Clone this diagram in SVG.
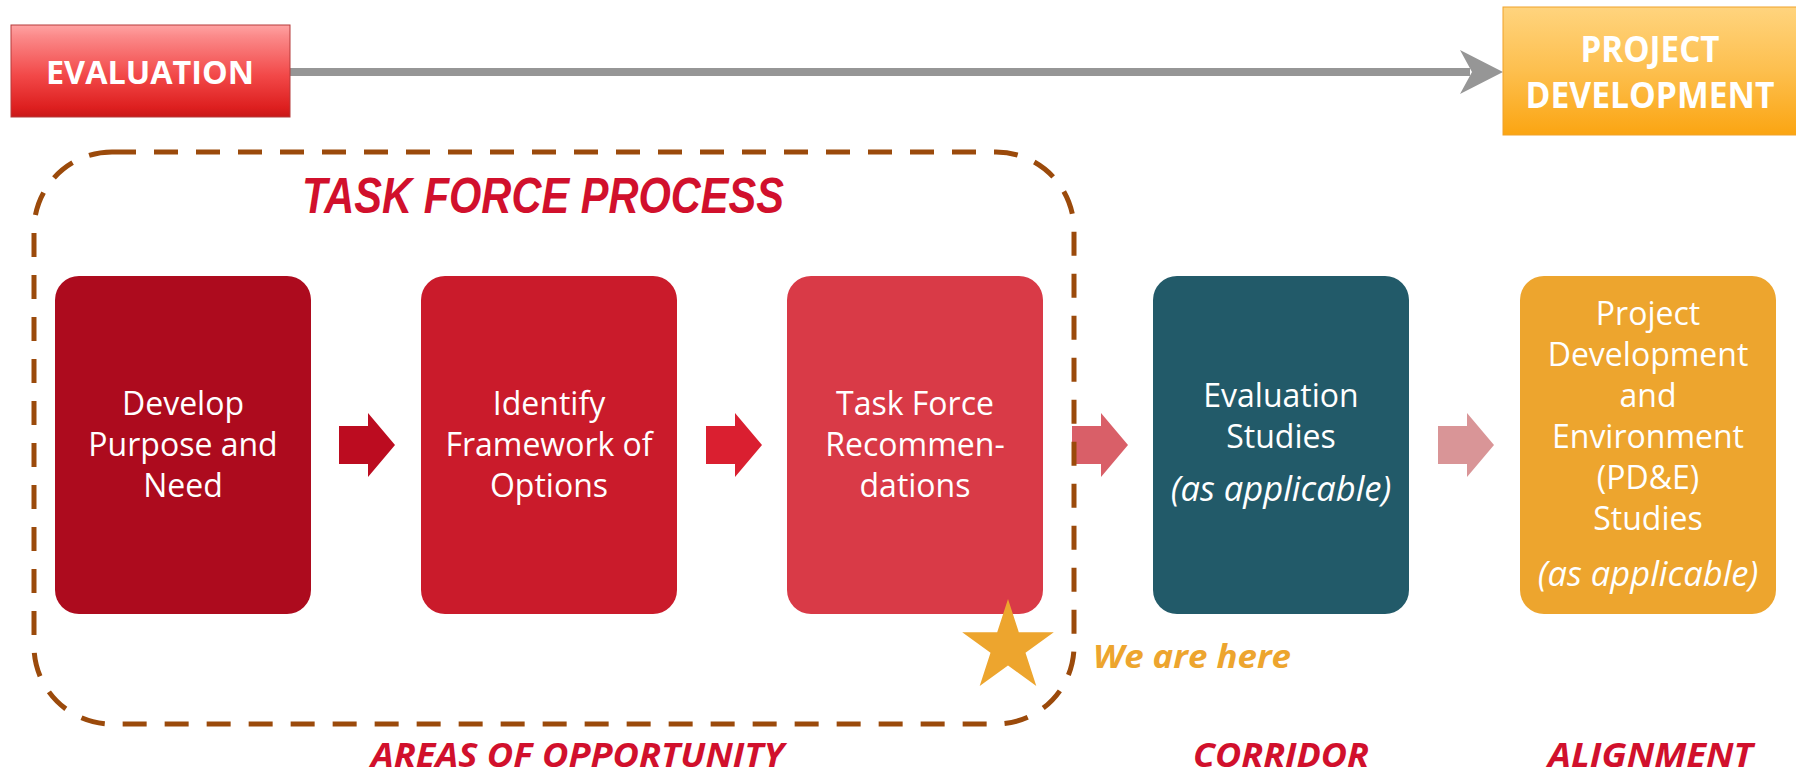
<svg xmlns="http://www.w3.org/2000/svg" width="1796" height="775" viewBox="0 0 1796 775">
<defs>
<linearGradient id="gEval" x1="0" y1="0" x2="0" y2="1">
<stop offset="0" stop-color="#FFA3A3"/>
<stop offset="0.12" stop-color="#FB8A8A"/>
<stop offset="0.55" stop-color="#F24848"/>
<stop offset="0.9" stop-color="#DD1F1F"/>
<stop offset="1" stop-color="#C81818"/>
</linearGradient>
<linearGradient id="gPD" x1="0" y1="0" x2="0" y2="1">
<stop offset="0" stop-color="#FFD47E"/>
<stop offset="0.5" stop-color="#FDBF4E"/>
<stop offset="1" stop-color="#FBA512"/>
</linearGradient>
<path id="blockArrow" d="M0,-19 H29 V-32 L56,0 L29,32 V19 H0 Z"/>
<style>
.box-text{font-family:"Open Sans","Liberation Sans",sans-serif;font-size:32px;fill:#FFFFFF;text-anchor:middle}
.ital{font-style:italic;font-size:34.5px}
.head{font-family:"Open Sans","Liberation Sans",sans-serif;font-weight:bold;fill:#FFFFFF;text-anchor:middle}
.label{font-family:"Open Sans","Liberation Sans",sans-serif;font-weight:bold;font-style:italic;fill:#D1102C}
</style>
</defs>
<rect width="1796" height="775" fill="#FFFFFF"/>

<g id="connectors">
<line x1="290" y1="72" x2="1470" y2="72" stroke="#969696" stroke-width="8"/>
<polygon points="1460,50 1503,72 1460,94 1472,72" fill="#969696"/>
<use href="#blockArrow" x="339" y="445" fill="#BC0C20"/>
<use href="#blockArrow" x="706" y="445" fill="#DA1F30"/>
<use href="#blockArrow" x="1072" y="445" fill="#D95F68"/>
<use href="#blockArrow" x="1438" y="445" fill="#D99597"/>
</g>

<g id="evaluation">
<rect x="11" y="25" width="279" height="92" fill="url(#gEval)" stroke="#B53A3A" stroke-width="1"/>
<text class="head" x="150" y="84" font-size="33" textLength="208" lengthAdjust="spacingAndGlyphs">EVALUATION</text>
</g>

<g id="project-development">
<rect x="1503" y="7" width="296" height="128" fill="url(#gPD)" stroke="#F0A22A" stroke-width="1"/>
<text class="head" x="1650" y="62" font-size="35" textLength="139" lengthAdjust="spacingAndGlyphs">PROJECT</text>
<text class="head" x="1650" y="108" font-size="35" textLength="249" lengthAdjust="spacingAndGlyphs">DEVELOPMENT</text>
</g>

<g id="step-purpose">
<rect x="55" y="276" width="256" height="338" rx="24" fill="#AD0B1E"/>
<text class="box-text" x="183" y="415">Develop</text>
<text class="box-text" x="183" y="456">Purpose and</text>
<text class="box-text" x="183" y="497">Need</text>
</g>

<g id="step-framework">
<rect x="421" y="276" width="256" height="338" rx="24" fill="#CA1B2B"/>
<text class="box-text" x="549" y="415">Identify</text>
<text class="box-text" x="549" y="456">Framework of</text>
<text class="box-text" x="549" y="497">Options</text>
</g>

<g id="step-recommendations">
<rect x="787" y="276" width="256" height="338" rx="24" fill="#D93A47"/>
<text class="box-text" x="915" y="415">Task Force</text>
<text class="box-text" x="915" y="456">Recommen-</text>
<text class="box-text" x="915" y="497">dations</text>
</g>

<g id="step-evaluation-studies">
<rect x="1153" y="276" width="256" height="338" rx="24" fill="#225A69"/>
<text class="box-text" x="1281" y="407">Evaluation</text>
<text class="box-text" x="1281" y="448">Studies</text>
<text class="box-text ital" x="1281" y="501">(as applicable)</text>
</g>

<g id="step-pde">
<rect x="1520" y="276" width="256" height="338" rx="24" fill="#EDA52E"/>
<text class="box-text" x="1648" y="325">Project</text>
<text class="box-text" x="1648" y="366">Development</text>
<text class="box-text" x="1648" y="407">and</text>
<text class="box-text" x="1648" y="448">Environment</text>
<text class="box-text" x="1648" y="489">(PD&amp;E)</text>
<text class="box-text" x="1648" y="530">Studies</text>
<text class="box-text ital" x="1648" y="586">(as applicable)</text>
</g>

<g id="task-force-process">
<rect x="34" y="152" width="1040" height="572" rx="78" ry="78" fill="none" stroke="#9B4A0B" stroke-width="5" stroke-dasharray="24 18"/>
<text x="302" y="213" font-family="'Liberation Sans',Arial,sans-serif" font-weight="bold" font-style="italic" font-size="50" fill="#D1102C" textLength="482" lengthAdjust="spacingAndGlyphs">TASK FORCE PROCESS</text>
</g>

<g id="we-are-here">
<polygon points="1008,599 1018.8,632.2 1053.8,632.2 1025.5,652.8 1036.3,686 1008,665.5 979.7,686 990.5,652.8 962.2,632.2 997.2,632.2" fill="#EDA52E"/>
<text x="1093" y="668" font-family="'Open Sans','Liberation Sans',sans-serif" font-weight="bold" font-style="italic" font-size="33" fill="#EDA52E" textLength="198" lengthAdjust="spacingAndGlyphs">We are here</text>
</g>

<g id="labels">
<text class="label" x="371" y="767" font-size="34" textLength="413" lengthAdjust="spacingAndGlyphs">AREAS OF OPPORTUNITY</text>
<text class="label" x="1193" y="767" font-size="34" textLength="176" lengthAdjust="spacingAndGlyphs">CORRIDOR</text>
<text class="label" x="1548" y="767" font-size="34" textLength="205" lengthAdjust="spacingAndGlyphs">ALIGNMENT</text>
</g>
</svg>
